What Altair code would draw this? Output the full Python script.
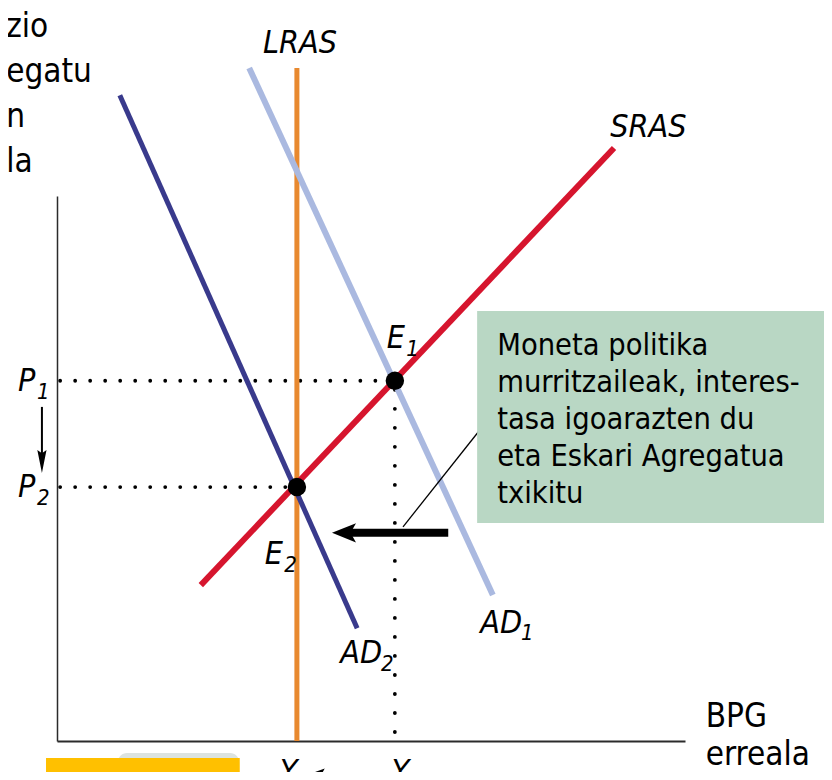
import altair as alt
import pandas as pd

# ---------------- data (x: real GDP units, y: price level units) ----------------
LRAS_X = [38.2, 38.2]
LRAS_Y = [123.5, 0.0]
SRAS_X = [22.9, 88.7]
SRAS_Y = [28.6, 108.8]
AD1_X = [30.6, 69.4]
AD1_Y = [123.5, 26.8]
AD2_X = [10.0, 47.8]
AD2_Y = [118.5, 20.7]

EQ_NAMES = ["E1", "E2"]
EQ_X = [53.8, 38.2]
EQ_Y = [66.1, 46.6]

P_NAMES = ["P1", "P2"]
P_START = [0.5, 0.5]
P_END = [53.8, 38.2]
P_LEVEL = [66.1, 46.6]

Y1_X = [53.8]
Y1_FROM = [1.65]
Y1_TO = [66.1]

SHIFT_FROM = [62.3]
SHIFT_TO = [46.5]
SHIFT_HEAD = [45.7]
SHIFT_Y = [38.2]

PARROW_X = [-2.4]
PARROW_FROM = [61.3]
PARROW_TO = [52.5]
PARROW_HEAD = [51.3]

YARROW_Y = [-5.9]
YARROW_FROM = [52.5]
YARROW_TO = [42.5]
YARROW_HEAD = [41.6]

NOTE_X = [55.1]
NOTE_Y = [39.3]
NOTE_X2 = [69.0]
NOTE_Y2 = [59.5]

BOX_X = [66.9]
BOX_X2 = [127.0]
BOX_Y = [78.9]
BOX_Y2 = [40.0]
BOX_LINES = ["Moneta politika", "murritzaileak, interes-", "tasa igoarazten du",
             "eta Eskari Agregatua", "txikitu"]
BOX_TEXT_X = [70.1]
BOX_TEXT_Y = [70.8]

LABEL_TEXT = ["LRAS", "SRAS", "E", "E", "P", "P", "AD", "AD", "Y", "Y"]
LABEL_X = [32.8, 88.1, 52.5, 33.1, -6.2, -6.2, 67.4, 45.1, 35.5, 53.3]
LABEL_Y = [126.2, 110.8, 72.1, 32.5, 64.2, 44.8, 19.8, 14.3, -7.5, -7.5]
SUB_TEXT = ["1", "2", "1", "2", "1", "2", "P", "1"]
SUB_X = [55.6, 36.2, -3.2, -3.2, 73.9, 51.6, 38.4, 55.6]
SUB_Y = [70.6, 31.0, 62.8, 43.3, 18.5, 12.8, -9.0, -9.0]

YAXIS_LINES = ["zio", "egatu", "n", "la"]
YAXIS_TEXT_X = [-8.1]
YAXIS_TEXT_Y = [129.2]
XAXIS_LINES = ["BPG", "erreala"]
XAXIS_TEXT_X = [103.3]
XAXIS_TEXT_Y = [2.6]

TAB_GRAY = ([9.7], [29.0], [-2.2], [-12.0])
TAB_YELLOW = ([-1.75], [29.1], [-3.1], [-12.0])
TAB_TEXT = ["Deflazioa"]
TAB_TEXT_X = [1.3]
TAB_TEXT_Y = [-11.0]

# ---------------- scales / axes ----------------
xs = alt.Scale(domain=[0, 100], nice=False, zero=False)
ys = alt.Scale(domain=[0, 100], nice=False, zero=False)
ax_x = alt.Axis(title=None, labels=False, ticks=False, grid=False,
                domainColor="#2b2b2b", domainWidth=2)
ax_y = alt.Axis(title=None, labels=False, ticks=False, grid=False,
                domainColor="#2b2b2b", domainWidth=1.5)


def X(f):
    return alt.X(f, type="quantitative", scale=xs, axis=ax_x)


def Y(f):
    return alt.Y(f, type="quantitative", scale=ys, axis=ax_y)


def X2(f):
    return alt.X2(f)


def Y2(f):
    return alt.Y2(f)


def curve(xv, yv, color, w):
    df = pd.DataFrame({"x": xv, "y": yv, "o": list(range(len(xv)))})
    return alt.Chart(df).mark_line(color=color, strokeWidth=w, strokeCap="butt").encode(
        x=X("x"), y=Y("y"), order="o:Q")


LABEL_FONT = "DejaVu Sans Condensed, DejaVu Sans, sans-serif"
BODY_FONT = "DejaVu Sans Condensed, DejaVu Sans, sans-serif"

# dotted guides
p_df = pd.DataFrame({"name": P_NAMES, "x": P_START, "x2": P_END, "y": P_LEVEL})
p_dots = alt.Chart(p_df).mark_rule(color="black", strokeWidth=3.8, strokeCap="round",
                                   strokeDash=[0.01, 15]).encode(
    x=X("x"), x2=X2("x2"), y=Y("y"))
v_df = pd.DataFrame({"x": Y1_X, "y": Y1_FROM, "y2": Y1_TO})
v_dots = alt.Chart(v_df).mark_rule(color="black", strokeWidth=3.8, strokeCap="round",
                                   strokeDash=[0.01, 19]).encode(
    x=X("x"), y=Y("y"), y2=Y2("y2"))

# annotation line + box
note_df = pd.DataFrame({"x": NOTE_X, "y": NOTE_Y, "x2": NOTE_X2, "y2": NOTE_Y2})
note = alt.Chart(note_df).mark_rule(color="black", strokeWidth=1.3).encode(
    x=X("x"), y=Y("y"), x2=X2("x2"), y2=Y2("y2"))
box_df = pd.DataFrame({"x": BOX_X, "x2": BOX_X2, "y": BOX_Y, "y2": BOX_Y2})
box = alt.Chart(box_df).mark_rect(color="#B9D7C4").encode(
    x=X("x"), x2=X2("x2"), y=Y("y"), y2=Y2("y2"))
boxtxt_df = pd.DataFrame({"x": BOX_TEXT_X, "y": BOX_TEXT_Y, "t": ["\n".join(BOX_LINES)]})
boxtxt = alt.Chart(boxtxt_df).mark_text(font=BODY_FONT, fontSize=30.5, align="left",
                                        baseline="alphabetic", lineBreak="\n",
                                        lineHeight=37, color="black").encode(
    x=X("x"), y=Y("y"), text="t:N")

# shift arrow
sh_df = pd.DataFrame({"x": SHIFT_FROM, "x2": SHIFT_TO, "y": SHIFT_Y})
shaft = alt.Chart(sh_df).mark_rule(color="black", strokeWidth=8).encode(
    x=X("x"), x2=X2("x2"), y=Y("y"))
shh_df = pd.DataFrame({"x": SHIFT_HEAD, "y": SHIFT_Y})
shead = alt.Chart(shh_df).mark_point(shape="M -1 0 L 1 -0.8 L 0.55 0 L 1 0.8 Z",
                                     size=576, filled=True, opacity=1,
                                     color="black").encode(x=X("x"), y=Y("y"))

# P1 -> P2 arrow
pa_df = pd.DataFrame({"x": PARROW_X, "y": PARROW_FROM, "y2": PARROW_TO})
pshaft = alt.Chart(pa_df).mark_rule(color="black", strokeWidth=2).encode(
    x=X("x"), y=Y("y"), y2=Y2("y2"))
pah_df = pd.DataFrame({"x": PARROW_X, "y": PARROW_HEAD})
phead = alt.Chart(pah_df).mark_point(shape="M 0 1 L -0.4 -1 L 0 -0.7 L 0.4 -1 Z",
                                     size=529, filled=True, opacity=1,
                                     color="black").encode(x=X("x"), y=Y("y"))

# Y1 -> YP arrow
ya_df = pd.DataFrame({"x": YARROW_FROM, "x2": YARROW_TO, "y": YARROW_Y})
yshaft = alt.Chart(ya_df).mark_rule(color="black", strokeWidth=2).encode(
    x=X("x"), x2=X2("x2"), y=Y("y"))
yah_df = pd.DataFrame({"x": YARROW_HEAD, "y": YARROW_Y})
yhead = alt.Chart(yah_df).mark_point(shape="M -1 0 L 1 -0.7 L 0.6 0 L 1 0.7 Z",
                                     size=169, filled=True, opacity=1,
                                     color="black").encode(x=X("x"), y=Y("y"))

# equilibrium points
eq_df = pd.DataFrame({"name": EQ_NAMES, "x": EQ_X, "y": EQ_Y})
eq = alt.Chart(eq_df).mark_point(shape="circle", size=340, filled=True, opacity=1,
                                 color="black").encode(x=X("x"), y=Y("y"))

# italic labels
lab_df = pd.DataFrame({"t": LABEL_TEXT, "x": LABEL_X, "y": LABEL_Y})
labels = alt.Chart(lab_df).mark_text(font=LABEL_FONT, fontStyle="italic", fontSize=32,
                                     align="left", baseline="alphabetic",
                                     color="black").encode(x=X("x"), y=Y("y"), text="t:N")
sub_df = pd.DataFrame({"t": SUB_TEXT, "x": SUB_X, "y": SUB_Y})
subs = alt.Chart(sub_df).mark_text(font=LABEL_FONT, fontStyle="italic", fontSize=22,
                                   align="left", baseline="alphabetic",
                                   color="black").encode(x=X("x"), y=Y("y"), text="t:N")

# axis titles (plain text)
yt_df = pd.DataFrame({"x": YAXIS_TEXT_X, "y": YAXIS_TEXT_Y, "t": ["\n".join(YAXIS_LINES)]})
ytitle = alt.Chart(yt_df).mark_text(font=BODY_FONT, fontSize=33, align="left",
                                    baseline="alphabetic", lineBreak="\n", lineHeight=45,
                                    color="black").encode(x=X("x"), y=Y("y"), text="t:N")
xt_df = pd.DataFrame({"x": XAXIS_TEXT_X, "y": XAXIS_TEXT_Y, "t": ["\n".join(XAXIS_LINES)]})
xtitle = alt.Chart(xt_df).mark_text(font=BODY_FONT, fontSize=33, align="left",
                                    baseline="alphabetic", lineBreak="\n", lineHeight=38,
                                    color="black").encode(x=X("x"), y=Y("y"), text="t:N")

# bottom tabs
g_df = pd.DataFrame({"x": TAB_GRAY[0], "x2": TAB_GRAY[1], "y": TAB_GRAY[2], "y2": TAB_GRAY[3]})
gtab = alt.Chart(g_df).mark_rect(color="#DCE3E0", cornerRadius=9).encode(
    x=X("x"), x2=X2("x2"), y=Y("y"), y2=Y2("y2"))
yl_df = pd.DataFrame({"x": TAB_YELLOW[0], "x2": TAB_YELLOW[1], "y": TAB_YELLOW[2], "y2": TAB_YELLOW[3]})
ytab = alt.Chart(yl_df).mark_rect(color="#FFC000").encode(
    x=X("x"), x2=X2("x2"), y=Y("y"), y2=Y2("y2"))
tt_df = pd.DataFrame({"x": TAB_TEXT_X, "y": TAB_TEXT_Y, "t": TAB_TEXT})
ttext = alt.Chart(tt_df).mark_text(font=BODY_FONT, fontSize=30, align="left",
                                   baseline="alphabetic", color="black").encode(
    x=X("x"), y=Y("y"), text="t:N")

chart = alt.layer(
    gtab, ytab, ttext,
    p_dots, v_dots,
    curve(LRAS_X, LRAS_Y, "#E8892F", 5),
    curve(SRAS_X, SRAS_Y, "#D6152E", 6),
    curve(AD1_X, AD1_Y, "#AAB9E0", 6),
    curve(AD2_X, AD2_Y, "#393A8C", 5),
    note, box, boxtxt,
    shaft, shead, pshaft, phead, yshaft, yhead,
    eq, labels, subs, ytitle, xtitle,
).properties(
    width=628, height=545,
    autosize=alt.AutoSizeParams(type="none"),
    padding={"left": 49, "top": 188, "right": 139, "bottom": 31},
    background="white",
).configure_view(stroke=None)

chart.save("out.html", embed_options={"renderer": "svg", "actions": False})
